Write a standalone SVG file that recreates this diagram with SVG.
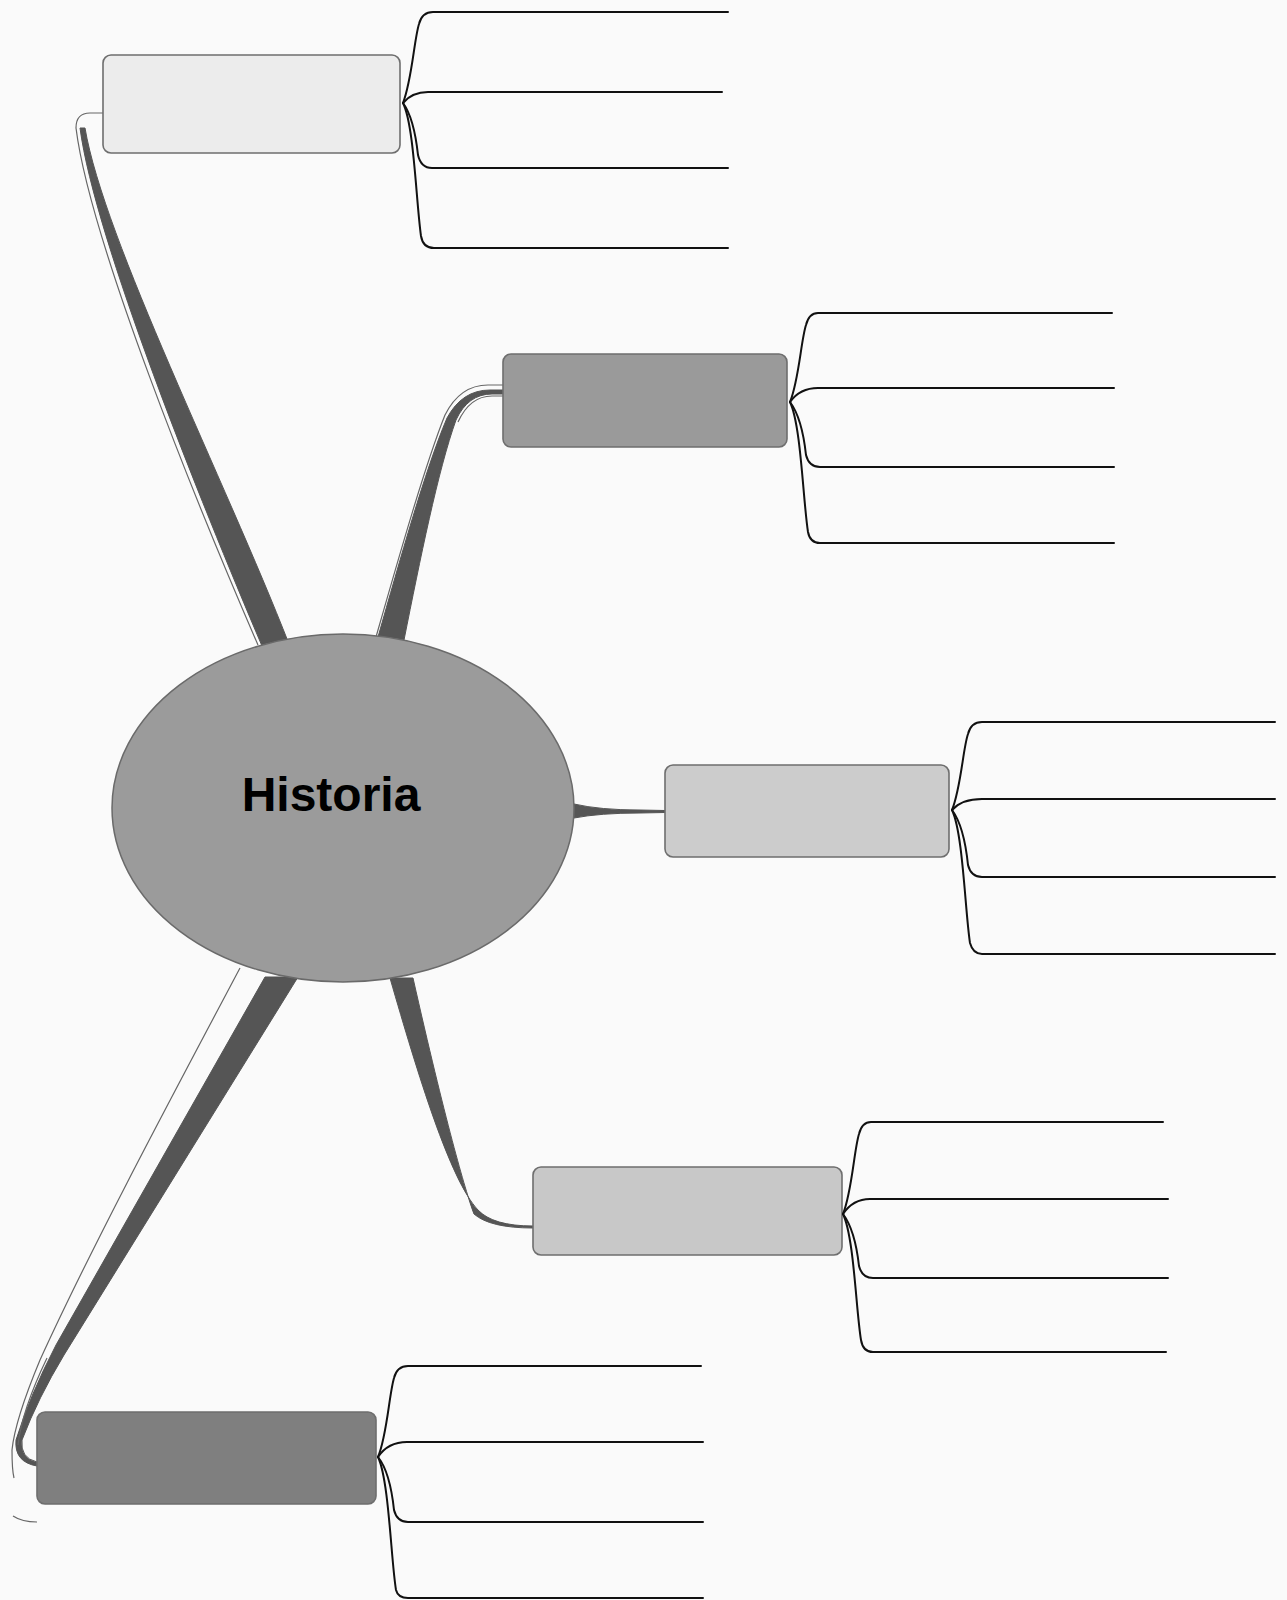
<svg xmlns="http://www.w3.org/2000/svg" width="1287" height="1600" viewBox="0 0 1287 1600">
<style>
.box{stroke:#6e6e6e;stroke-width:1.6}
.wedge{fill:#555555;stroke:#555555;stroke-width:1}
.thin{fill:none;stroke:#666666;stroke-width:1.2}
.leaf{fill:none;stroke:#111111;stroke-width:2;stroke-linecap:round;stroke-linejoin:round}
.title{font-family:"Liberation Sans",Arial,sans-serif;font-weight:bold;font-size:48px;fill:#000}
</style>
<rect x="0" y="0" width="1287" height="1600" fill="#fafafa"/>
<g id="connectors">
  <!-- center to box 1 -->
  <path class="wedge" d="M262,646 C200,500 95,240 80,128 L85,128 C104,240 225,480 289,644 Z"/>
  <path class="thin" d="M103,113 L90,113 Q76,113 76,128 C90,240 195,500 258,645"/>
  <!-- center to box 2 -->
  <path class="wedge" d="M378,637 C400,560 425,470 447,418 Q462,390 490,390 L503,390 L503,394 L492,394 Q468,394 456,420 C438,470 420,560 404,640 Z"/>
  <path class="thin" d="M503,385 L488,385 Q460,385 445,415 C425,465 398,560 376,637"/>
  <path class="thin" d="M503,396 L492,396 Q470,396 458,422"/>
  <!-- center to box 3 -->
  <path class="wedge" d="M574,804 Q600,810 640,810 L665,810.5 L665,812.5 L640,813 Q600,813 574,818 Z"/>
  <!-- center to box 4 -->
  <path class="wedge" d="M390,978 C418,1075 450,1180 478,1210 Q493,1226 533,1226 L533,1228 Q490,1228 474,1214 C465,1190 445,1120 413,978 Z"/>
  <!-- center to box 5 -->
  <path class="wedge" d="M265,977 L56,1345 Q30,1395 16,1440 Q14,1462 37,1466 L37,1462 Q20,1458 22,1440 Q38,1398 64,1355 L298,977 Z"/>
  <path class="thin" d="M240,968 C170,1100 90,1250 40,1360 Q15,1420 12,1450 Q12,1470 14,1478"/>
  <path class="thin" d="M47,1358 Q22,1410 18,1445"/>
  <path class="thin" d="M13,1516 Q22,1522 37,1522" stroke-width="0.8"/>
</g>
<g id="center">
  <ellipse cx="343" cy="808" rx="231" ry="174" fill="#9b9b9b" stroke="#6a6a6a" stroke-width="1.5"/>
  <text class="title" x="331" y="811" text-anchor="middle">Historia</text>
</g>
<g id="node1">
  <rect class="box" x="103" y="55" width="297" height="98" rx="8" fill="#ececec"/>
  <path class="leaf" d="M403,103 C412,80 414,40 419,24 Q422,12 433,12 L728,12"/>
  <path class="leaf" d="M403,103 Q412,92 428,92 L722,92"/>
  <path class="leaf" d="M403,103 Q414,118 418,155 Q421,168 432,168 L728,168"/>
  <path class="leaf" d="M403,103 C414,125 416,200 421,236 Q423,248 434,248 L728,248"/>
</g>
<g id="node2">
  <rect class="box" x="503" y="354" width="284" height="93" rx="8" fill="#9a9a9a"/>
  <path class="leaf" d="M790,402 C799,380 801,340 806,325 Q809,313 818,313 L1112,313"/>
  <path class="leaf" d="M790,402 Q800,388 818,388 L1114,388"/>
  <path class="leaf" d="M790,402 Q802,418 806,455 Q809,467 820,467 L1114,467"/>
  <path class="leaf" d="M790,402 C801,425 803,500 808,532 Q810,543 820,543 L1114,543"/>
</g>
<g id="node3">
  <rect class="box" x="665" y="765" width="284" height="92" rx="8" fill="#cccccc"/>
  <path class="leaf" d="M952,810 C961,788 963,748 968,734 Q971,722 982,722 L1275,722"/>
  <path class="leaf" d="M952,810 Q962,799 982,799 L1275,799"/>
  <path class="leaf" d="M952,810 Q964,826 968,865 Q971,877 982,877 L1275,877"/>
  <path class="leaf" d="M952,810 C963,833 965,910 970,943 Q973,954 982,954 L1275,954"/>
</g>
<g id="node4">
  <rect class="box" x="533" y="1167" width="309" height="88" rx="8" fill="#c8c8c8"/>
  <path class="leaf" d="M843,1214 C852,1192 854,1150 859,1134 Q862,1122 871,1122 L1163,1122"/>
  <path class="leaf" d="M843,1214 Q853,1199 870,1199 L1168,1199"/>
  <path class="leaf" d="M843,1214 Q855,1230 859,1266 Q862,1278 873,1278 L1168,1278"/>
  <path class="leaf" d="M843,1214 C854,1237 856,1310 861,1340 Q863,1352 873,1352 L1166,1352"/>
</g>
<g id="node5">
  <rect class="box" x="37" y="1412" width="339" height="92" rx="8" fill="#7f7f7f"/>
  <path class="leaf" d="M378,1457 C387,1436 389,1395 394,1378 Q397,1366 408,1366 L701,1366"/>
  <path class="leaf" d="M378,1457 Q388,1442 407,1442 L703,1442"/>
  <path class="leaf" d="M378,1457 Q390,1472 394,1510 Q397,1522 408,1522 L703,1522"/>
  <path class="leaf" d="M378,1457 C389,1480 391,1560 396,1590 Q398,1598 408,1598 L703,1598"/>
</g>
</svg>
